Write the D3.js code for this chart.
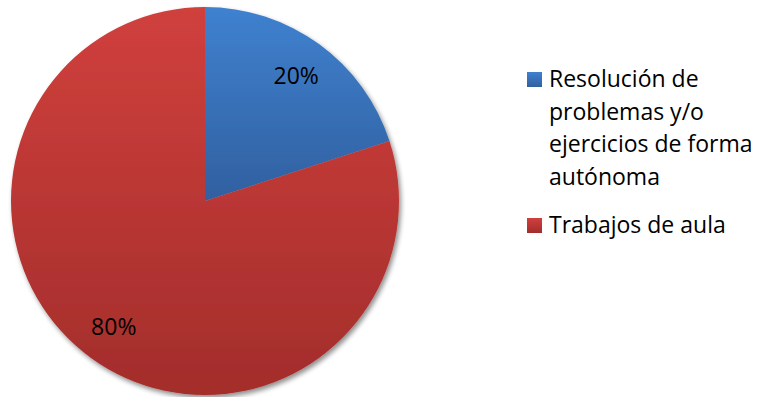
<!DOCTYPE html>
<html><head><meta charset="utf-8">
<script src="https://cdn.jsdelivr.net/npm/d3@7"></script>
<style>html,body{margin:0;padding:0;background:#fff;}svg{display:block;}</style>
</head><body>
<svg id="chart" width="760" height="397"></svg>
<script>
const categories = ["Resolución de problemas y/o ejercicios de forma autónoma", "Trabajos de aula"];
const legendLines = [["Resolución de", "problemas y/o", "ejercicios de forma", "autónoma"], ["Trabajos de aula"]];
const values = [20, 80];
const labels = ["20%", "80%"];
const colorsTop = ["#3f81cf", "#d0403d"];
const colorsBottom = ["#3160a0", "#a32d2b"];

const svg = d3.select("#chart");
const cx = 205, cy = 201, r = 194;
const defs = svg.append("defs");
categories.forEach((c, i) => {
  const g = defs.append("linearGradient").attr("id", "g" + i).attr("x1", 0).attr("y1", 0).attr("x2", 0).attr("y2", 1);
  g.append("stop").attr("offset", "0%").attr("stop-color", colorsTop[i]);
  g.append("stop").attr("offset", "100%").attr("stop-color", colorsBottom[i]);
});
const f = defs.append("filter").attr("id", "sh").attr("x", "-10%").attr("y", "-10%").attr("width", "130%").attr("height", "130%");
f.append("feGaussianBlur").attr("in", "SourceAlpha").attr("stdDeviation", 2.5).attr("result", "b");
f.append("feOffset").attr("in", "b").attr("dx", 2).attr("dy", 3).attr("result", "o");
f.append("feComponentTransfer").attr("in", "o").attr("result", "o2").append("feFuncA").attr("type", "linear").attr("slope", 0.45);
const m = f.append("feMerge");
m.append("feMergeNode").attr("in", "o2");
m.append("feMergeNode").attr("in", "SourceGraphic");

const pie = d3.pie().sort(null).value(d => d);
const arcs = pie(values);
const arc = d3.arc().innerRadius(0).outerRadius(r);
const labelArc = d3.arc().innerRadius(r * 0.8).outerRadius(r * 0.8);

const g = svg.append("g").attr("transform", `translate(${cx},${cy})`);
g.append("g").attr("filter", "url(#sh)").selectAll("path").data(arcs).join("path")
  .attr("d", arc).attr("fill", (d, i) => `url(#g${i})`);
g.selectAll("text").data(arcs).join("text")
  .attr("transform", d => `translate(${labelArc.centroid(d)})`)
  .attr("text-anchor", "middle").attr("dy", "0.35em")
  .attr("font-family", "'Open Sans', sans-serif").attr("font-size", 23).attr("fill", "#000")
  .text((d, i) => labels[i]);

const lg = svg.append("g");
const starts = [87, 233];
categories.forEach((c, i) => {
  lg.append("rect").attr("x", 527).attr("y", starts[i] - 15).attr("width", 15).attr("height", 15)
    .attr("fill", `url(#g${i})`);
  const t = lg.append("text").attr("font-family", "'Open Sans', sans-serif").attr("font-size", 23).attr("fill", "#000");
  legendLines[i].forEach((ln, j) => {
    t.append("tspan").attr("x", 549).attr("y", starts[i] + j * 32.5).text(ln);
  });
});
</script>
</body></html>
